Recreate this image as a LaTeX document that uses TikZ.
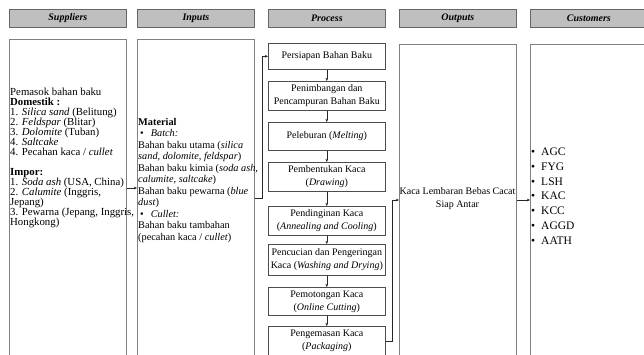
\documentclass[tikz,border=0pt]{standalone}
\usepackage{fontspec}
\setmainfont{Liberation Serif}
\usetikzlibrary{arrows.meta}
\begin{document}
\begin{tikzpicture}[x=1pt,y=-1pt,
  hdr/.style={draw=black!60, fill=black!25, line width=0.7pt, minimum width=117pt, minimum height=18pt, anchor=north west, inner sep=0pt, font=\fontsize{10}{12}\selectfont\bfseries\itshape},
  colbox/.style={draw=black!50, line width=0.6pt, minimum width=117pt, anchor=north west, inner sep=0pt},
  pbox/.style={draw=black!70, line width=0.6pt, minimum width=117pt, anchor=north west, inner sep=0pt, align=center, font=\fontsize{10}{13}\selectfont},
  txt/.style={inner sep=0pt, align=left},
  arr/.style={draw=black!85, line width=0.6pt, -{Stealth[length=3.2pt,width=2.8pt]}}
]
\useasboundingbox (0,0) rectangle (644,354);
% headers
\node[hdr] (hs) at (9,9) {Suppliers};
\node[hdr] (hi) at (137,9) {Inputs};
\node[hdr] (hp) at (268,9) {Process};
\node[hdr] (ho) at (399,9) {Outputs};
\node[hdr] (hc) at (530,9) {Customers};
% column boxes
\node[colbox, minimum height=330pt] (cs) at (9,39) {};
\node[colbox, minimum height=330pt] (ci) at (137,39) {};
\node[colbox, minimum height=330pt] (co) at (399,44) {};
\node[colbox, minimum height=330pt] (cc) at (530,44) {};
% process boxes
\node[pbox, minimum height=26pt] (p1) at (268,43) {Persiapan Bahan Baku};
\node[pbox, minimum height=29pt] (p2) at (268,81) {Penimbangan dan\\Pencampuran Bahan Baku};
\node[pbox, minimum height=28pt] (p3) at (268,122) {Peleburan (\textit{Melting})};
\node[pbox, minimum height=29pt] (p4) at (268,162) {Pembentukan Kaca\\(\textit{Drawing})};
\node[pbox, minimum height=29pt] (p5) at (268,206) {Pendinginan Kaca\\(\textit{Annealing and Cooling})};
\node[pbox, minimum height=31pt] (p6) at (268,244) {Pencucian dan Pengeringan\\Kaca (\textit{Washing and Drying})};
\node[pbox, minimum height=28pt] (p7) at (268,287) {Pemotongan Kaca\\(\textit{Online Cutting})};
\node[pbox, minimum height=29pt] (p8) at (268,326) {Pengemasan Kaca\\(\textit{Packaging})};
% texts
\node[txt, anchor=north west, font=\fontsize{10.8}{10}\selectfont] (st) at (10,88) {Pemasok bahan baku\\
\textbf{Domestik :}\\
1. \textit{Silica sand} (Belitung)\\
2. \textit{Feldspar} (Blitar)\\
3. \textit{Dolomite} (Tuban)\\
4. \textit{Saltcake}\\
4. Pecahan kaca / \textit{cullet}\\[10pt]
\textbf{Impor:}\\
1. \textit{Soda ash} (USA, China)\\
2. \textit{Calumite} (Inggris,\\
Jepang)\\
3. Pewarna (Jepang, Inggris,\\
Hongkong)};
\node[txt, anchor=north west, font=\fontsize{10.3}{11.5}\selectfont] (it) at (138,118) {\textbf{Material}\\
\hspace*{2pt}\textbullet\hspace{7pt}\textit{Batch:}\\
Bahan baku utama (\textit{silica}\\
\textit{sand, dolomite, feldspar})\\
Bahan baku kimia (\textit{soda ash,}\\
\textit{calumite, saltcake})\\
Bahan baku pewarna (\textit{blue}\\
\textit{dust})\\
\hspace*{2pt}\textbullet\hspace{7pt}\textit{Cullet:}\\
Bahan baku tambahan\\
(pecahan kaca / \textit{cullet})};
\node[txt, align=center, font=\fontsize{10}{13}\selectfont] (ot) at (457.5,198.5) {Kaca Lembaran Bebas Cacat\\Siap Antar};
\node[txt, anchor=north west, font=\fontsize{11.5}{14.7}\selectfont] (ct) at (531,148) {\textbullet\hspace{6pt}AGC\\
\textbullet\hspace{6pt}FYG\\
\textbullet\hspace{6pt}LSH\\
\textbullet\hspace{6pt}KAC\\
\textbullet\hspace{6pt}KCC\\
\textbullet\hspace{6pt}AGGD\\
\textbullet\hspace{6pt}AATH};
% helper coordinates
\coordinate (j1) at (0,188);
\coordinate (j2) at (0,198);
\coordinate (j3) at (0,200);
\coordinate (k1) at (262,0);
\coordinate (k2) at (392,0);
% connectors
\draw[arr] (cs.east |- j1) -- (ci.west |- j1);
\draw[arr] (ci.east |- j2) -- (k1 |- j2) |- (p1.west);
\draw[arr] (p1.south) -- (p2.north);
\draw[arr] (p2.south) -- (p3.north);
\draw[arr] (p3.south) -- (p4.north);
\draw[arr] (p4.south) -- (p5.north);
\draw[arr] (p5.south) -- (p6.north);
\draw[arr] (p6.south) -- (p7.north);
\draw[arr] (p7.south) -- (p8.north);
\draw[arr] (p8.east) -- (k2 |- p8.east) |- (co.west |- j3);
\draw[arr] (co.east |- j3) -- (cc.west |- j3);
\end{tikzpicture}
\end{document}
